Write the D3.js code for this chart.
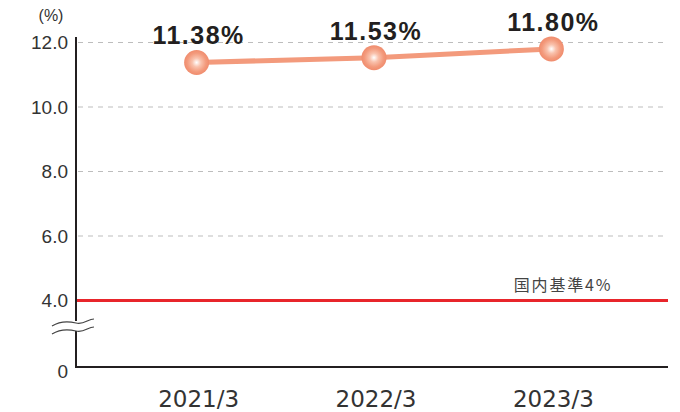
<!DOCTYPE html>
<html>
<head>
<meta charset="utf-8">
<script src="https://cdn.jsdelivr.net/npm/d3@7"></script>
<style>
  body { margin: 0; background: #fff; }
  svg { display: block; }
</style>
</head>
<body>
<div id="container"></div>
<script>
const categories = ["2021/3", "2022/3", "2023/3"];
const values = [11.38, 11.53, 11.80];
const valueLabels = ["11.38%", "11.53%", "11.80%"];
const yTicks = [0, 4, 6, 8, 10, 12];
const yTickLabels = ["0", "4.0", "6.0", "8.0", "10.0", "12.0"];
const gridTicks = [6, 8, 10, 12];
const baseline = 4;
const baselineLabel = "国内基準4%";

const width = 680, height = 412;
const svg = d3.select("#container")
    .append("svg")
    .attr("width", width)
    .attr("height", height);

// broken axis: 0 sits below the break, 4..12 is linear
const yScale = d3.scaleLinear().domain([0, 4, 12]).range([367, 300.5, 42.5]);
const xScale = d3.scalePoint().domain(categories).range([76, 672]).padding(0.68);

const defs = svg.append("defs");
const grad = defs.append("radialGradient")
    .attr("id", "dot")
    .attr("cx", "50%").attr("cy", "50%").attr("r", "50%");
grad.append("stop").attr("offset", "0%").attr("stop-color", "#ffffff");
grad.append("stop").attr("offset", "35%").attr("stop-color", "#f9c2ad");
grad.append("stop").attr("offset", "75%").attr("stop-color", "#f39a7c");
grad.append("stop").attr("offset", "100%").attr("stop-color", "#f08c6d");

// gridlines
svg.selectAll(".grid").data(gridTicks)
    .enter()
    .append("line")
    .attr("class", "grid")
    .attr("x1", 78).attr("x2", 665)
    .attr("y1", d => yScale(d)).attr("y2", d => yScale(d))
    .attr("stroke", "#bdbdbd")
    .attr("stroke-width", 1.2)
    .attr("stroke-dasharray", "5,5");

// baseline 4%
svg.append("line")
    .attr("x1", 77).attr("x2", 668)
    .attr("y1", yScale(baseline)).attr("y2", yScale(baseline))
    .attr("stroke", "#e8252b")
    .attr("stroke-width", 3);

svg.append("text")
    .attr("x", 563).attr("y", yScale(baseline) - 10)
    .attr("text-anchor", "middle")
    .attr("font-family", "'Noto Sans CJK JP', 'Noto Sans', sans-serif")
    .attr("font-size", 16)
    .attr("letter-spacing", 1.8)
    .attr("fill", "#444")
    .text(baselineLabel);

// axes
svg.append("line")
    .attr("x1", 76).attr("x2", 76)
    .attr("y1", 37).attr("y2", 368)
    .attr("stroke", "#231f20").attr("stroke-width", 2);
svg.append("line")
    .attr("x1", 75).attr("x2", 668)
    .attr("y1", 367).attr("y2", 367)
    .attr("stroke", "#231f20").attr("stroke-width", 2.2);

// axis break
const brk = svg.append("g").attr("transform", "translate(72,327)");
brk.append("rect").attr("x", 0).attr("y", -6).attr("width", 10).attr("height", 10).attr("fill", "#fff");
const wave = "M-20,3 C-12,-2 -4,-2 4,0 C12,2 16,-4 22,-4";
brk.append("path").attr("d", wave).attr("transform", "translate(0,-4)")
    .attr("fill", "none").attr("stroke", "#444").attr("stroke-width", 1.2);
brk.append("path").attr("d", wave).attr("transform", "translate(0,4)")
    .attr("fill", "none").attr("stroke", "#444").attr("stroke-width", 1.2);

// y tick labels
svg.selectAll(".ytick").data(yTicks)
    .enter()
    .append("text")
    .attr("class", "ytick")
    .attr("x", 68)
    .attr("y", d => yScale(d) + (d === 0 ? 4.5 : 0))
    .attr("dy", "0.36em")
    .attr("text-anchor", "end")
    .attr("font-family", "'Liberation Sans', Arial, sans-serif")
    .attr("font-size", 19)
    .attr("fill", "#333")
    .text((d, i) => yTickLabels[i]);

svg.append("text")
    .attr("x", 51).attr("y", 21)
    .attr("text-anchor", "middle")
    .attr("font-family", "'Liberation Sans', Arial, sans-serif")
    .attr("font-size", 16)
    .attr("fill", "#333")
    .text("(%)");

// x labels
svg.selectAll(".xtick").data(categories)
    .enter()
    .append("text")
    .attr("class", "xtick")
    .attr("x", d => xScale(d) + 2)
    .attr("y", 407)
    .attr("text-anchor", "middle")
    .attr("font-family", "'DejaVu Sans', sans-serif")
    .attr("font-size", 23)
    .attr("fill", "#333")
    .text(d => d);

// line
const pts = categories.map((c, i) => ({ cat: c, value: values[i], label: valueLabels[i] }));
const lineMaker = d3.line()
    .x(d => xScale(d.cat))
    .y(d => yScale(d.value));

svg.append("path")
    .datum(pts)
    .attr("d", lineMaker)
    .attr("fill", "none")
    .attr("stroke", "#f39a7c")
    .attr("stroke-width", 5);

svg.selectAll(".dot").data(pts)
    .enter()
    .append("circle")
    .attr("class", "dot")
    .attr("cx", d => xScale(d.cat))
    .attr("cy", d => yScale(d.value))
    .attr("r", 12.5)
    .attr("fill", "url(#dot)");

svg.selectAll(".vlabel").data(pts)
    .enter()
    .append("text")
    .attr("class", "vlabel")
    .attr("x", d => xScale(d.cat) + 2)
    .attr("y", d => yScale(d.value) - 18)
    .attr("text-anchor", "middle")
    .attr("font-family", "'Liberation Sans', Arial, sans-serif")
    .attr("font-weight", "bold")
    .attr("font-size", 25)
    .attr("letter-spacing", 1.5)
    .attr("fill", "#231f20")
    .text(d => d.label);
</script>
</body>
</html>
